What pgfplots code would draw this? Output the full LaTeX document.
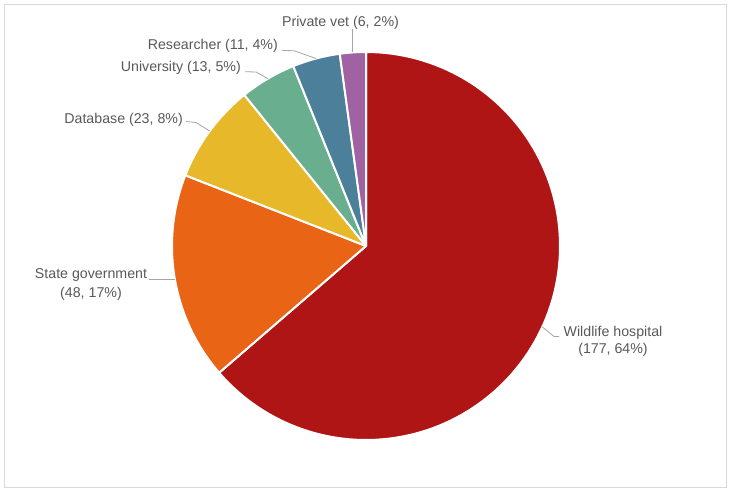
\documentclass[border=0pt]{standalone}
\usepackage{pgfplots}
\usepackage{pgfplotstable}
\pgfplotsset{compat=1.18}
\usepackage{fontspec}
\setmainfont{Liberation Sans}
\definecolor{cA}{HTML}{AF1515}
\definecolor{cB}{HTML}{E96414}
\definecolor{cC}{HTML}{E6B82A}
\definecolor{cD}{HTML}{69AE8E}
\definecolor{cE}{HTML}{4C7F99}
\definecolor{cF}{HTML}{A062A2}
\definecolor{txt}{HTML}{595959}
\definecolor{lead}{HTML}{A6A6A6}
\definecolor{frame}{HTML}{D9D9D9}
\tikzset{lbl/.style={font=\fontsize{14.2}{17}\selectfont, text=txt, inner sep=0pt}}
\pgfplotstableread{
name value
hospital 177
state 48
database 23
university 13
researcher 11
vet 6
}\piedata
\begin{document}
\begin{tikzpicture}
\pgfplotstablegetelem{0}{value}\of\piedata \edef\vA{\pgfplotsretval}
\pgfplotstablegetelem{1}{value}\of\piedata \edef\vB{\pgfplotsretval}
\pgfplotstablegetelem{2}{value}\of\piedata \edef\vC{\pgfplotsretval}
\pgfplotstablegetelem{3}{value}\of\piedata \edef\vD{\pgfplotsretval}
\pgfplotstablegetelem{4}{value}\of\piedata \edef\vE{\pgfplotsretval}
\pgfplotstablegetelem{5}{value}\of\piedata \edef\vF{\pgfplotsretval}
\pgfmathsetmacro\tot{\vA+\vB+\vC+\vD+\vE+\vF}
\pgfmathsetmacro\aZ{90}
\pgfmathsetmacro\aA{90-360*((\vA)/\tot)}
\pgfmathsetmacro\aB{90-360*((\vA+\vB)/\tot)}
\pgfmathsetmacro\aC{90-360*((\vA+\vB+\vC)/\tot)}
\pgfmathsetmacro\aD{90-360*((\vA+\vB+\vC+\vD)/\tot)}
\pgfmathsetmacro\aE{90-360*((\vA+\vB+\vC+\vD+\vE)/\tot)}
\pgfmathsetmacro\aF{-270}
\begin{axis}[
  x=1pt, y=1pt,
  xmin=0, xmax=731, ymin=0, ymax=493,
  hide axis, clip=false,
]
\fill[white] (axis cs:0,0) rectangle (axis cs:731,493);
\draw[frame, line width=0.9pt] (axis cs:4.7,5.3) rectangle (axis cs:726,488.7);
\addplot[fill=cA, draw=white, line width=2pt, line join=round, domain=\aA:\aZ, samples=120] ({366+194*cos(x)},{247+194*sin(x)}) -- (axis cs:366,247) -- cycle;
\addplot[fill=cB, draw=white, line width=2pt, line join=round, domain=\aB:\aA, samples=60] ({366+194*cos(x)},{247+194*sin(x)}) -- (axis cs:366,247) -- cycle;
\addplot[fill=cC, draw=white, line width=2pt, line join=round, domain=\aC:\aB, samples=40] ({366+194*cos(x)},{247+194*sin(x)}) -- (axis cs:366,247) -- cycle;
\addplot[fill=cD, draw=white, line width=2pt, line join=round, domain=\aD:\aC, samples=30] ({366+194*cos(x)},{247+194*sin(x)}) -- (axis cs:366,247) -- cycle;
\addplot[fill=cE, draw=white, line width=2pt, line join=round, domain=\aE:\aD, samples=30] ({366+194*cos(x)},{247+194*sin(x)}) -- (axis cs:366,247) -- cycle;
\addplot[fill=cF, draw=white, line width=2pt, line join=round, domain=\aF:\aE, samples=20] ({366+194*cos(x)},{247+194*sin(x)}) -- (axis cs:366,247) -- cycle;
% leader lines
\addplot[lead, line width=0.8pt] coordinates {(352.7,464) (352.7,441)};
\addplot[lead, line width=0.8pt] coordinates {(282,442.5) (294,442.3) (316,434.5)};
\addplot[lead, line width=0.8pt] coordinates {(245,421.3) (256,421) (268,414.3)};
\addplot[lead, line width=0.8pt] coordinates {(186,371.5) (196,370.5) (209.6,362)};
\addplot[lead, line width=0.8pt] coordinates {(149,214) (175,214)};
\addplot[lead, line width=0.8pt] coordinates {(542.4,166) (554,156.5) (559,156.5)};
% labels
\node[lbl, anchor=base] at (axis cs:340.5,466) {Private vet (6, 2\%)};
\node[lbl, anchor=base east] at (axis cs:278,443) {Researcher (11, 4\%)};
\node[lbl, anchor=base east] at (axis cs:241,421) {University (13, 5\%)};
\node[lbl, anchor=base east] at (axis cs:183,369) {Database (23, 8\%)};
\node[lbl, anchor=base] at (axis cs:91,214) {State government};
\node[lbl, anchor=base] at (axis cs:91,195) {(48, 17\%)};
\node[lbl, anchor=base] at (axis cs:613,156) {Wildlife hospital};
\node[lbl, anchor=base] at (axis cs:613,139.5) {(177, 64\%)};
\end{axis}
\end{tikzpicture}
\end{document}
